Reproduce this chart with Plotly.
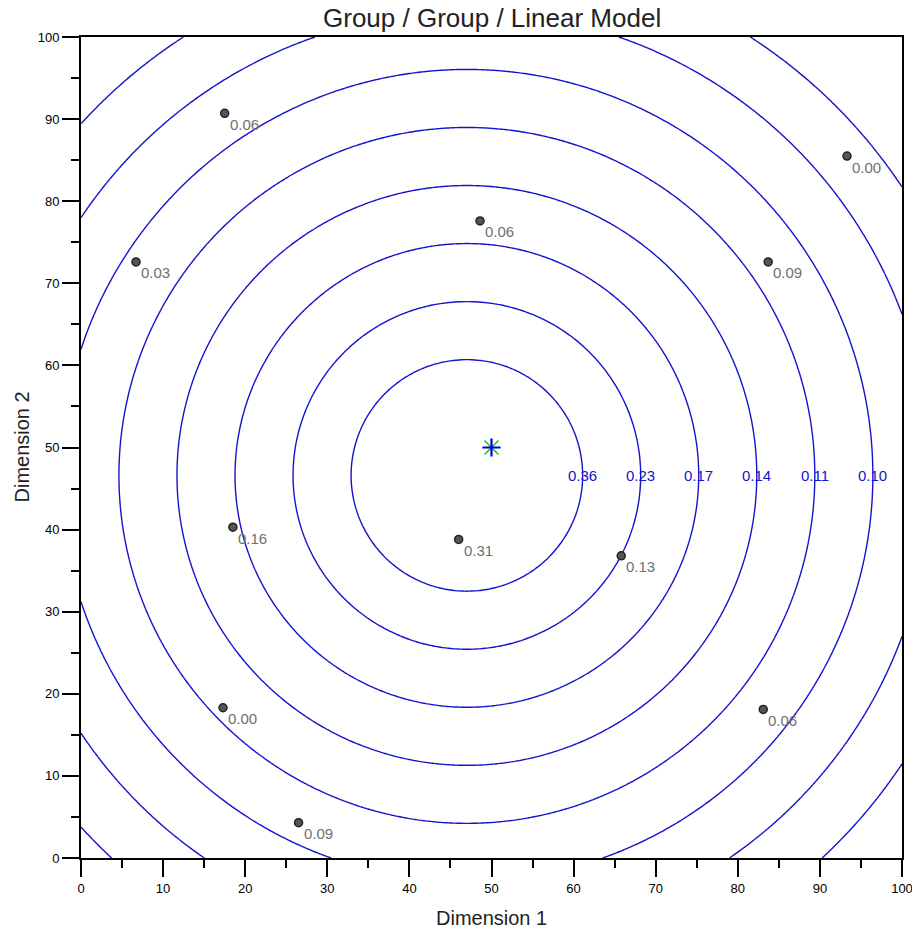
import numpy as np
import plotly.graph_objects as go

# ---- data ----
ideal_x = 47.0          # centre of the concentric contours
ideal_y = 46.6
contour_start = 14.1    # radius of innermost contour
contour_step = 7.07     # spacing between contours
contour_end = 63.7
contour_labels = ["0.36", "0.23", "0.17", "0.14", "0.11", "0.10"]

point_x = [17.5, 6.7, 48.6, 83.7, 93.3, 18.5, 46.0, 65.8, 17.3, 26.5, 83.1]
point_y = [90.7, 72.6, 77.6, 72.6, 85.5, 40.3, 38.8, 36.8, 18.3, 4.3, 18.1]
point_labels = ["0.06", "0.03", "0.06", "0.09", "0.00", "0.16", "0.31", "0.13", "0.00", "0.09", "0.06"]

star_x = [50.0]
star_y = [50.0]

title = "Group / Group / Linear Model"
x_title = "Dimension 1"
y_title = "Dimension 2"

# ---- field for contours ----
gx = np.linspace(0, 100, 251)
gy = np.linspace(0, 100, 251)
XX, YY = np.meshgrid(gx, gy)
Z = np.round(np.sqrt((XX - ideal_x) ** 2 + (YY - ideal_y) ** 2), 3)

BLUE = "#1414cc"
FONT = "Liberation Sans, Arial, sans-serif"

fig = go.Figure()
fig.add_trace(go.Contour(
    x=gx, y=gy, z=Z,
    contours=dict(coloring="lines", start=contour_start, end=contour_end, size=contour_step,
                  showlabels=False),
    colorscale=[[0, BLUE], [1, BLUE]],
    line=dict(width=1.4, smoothing=1),
    showscale=False, hoverinfo="skip",
))

fig.add_trace(go.Scatter(
    x=point_x, y=point_y, mode="markers",
    marker=dict(size=8, color="#555555", line=dict(color="#222222", width=1.5)),
    hoverinfo="skip", cliponaxis=False,
))

fig.add_trace(go.Scatter(
    x=star_x, y=star_y, mode="markers",
    marker=dict(symbol="x-thin-open", size=14, color="#22c022", line=dict(color="#22c022", width=1.5)),
    hoverinfo="skip",
))
fig.add_trace(go.Scatter(
    x=star_x, y=star_y, mode="markers",
    marker=dict(symbol="cross-thin-open", size=13, color="#0000e0", line=dict(color="#0000e0", width=2.2)),
    hoverinfo="skip",
))

annotations = []
for px, py, t in zip(point_x, point_y, point_labels):
    annotations.append(dict(x=px, y=py, xref="x", yref="y", text=t, showarrow=False,
                            xanchor="left", yanchor="middle", xshift=3, yshift=-11,
                            font=dict(family=FONT, size=15, color="#707070")))

for i, t in enumerate(contour_labels):
    r = contour_start + i * contour_step
    annotations.append(dict(x=ideal_x + r, y=ideal_y, xref="x", yref="y", text=t, showarrow=False,
                            xanchor="center", yanchor="middle",
                            font=dict(family=FONT, size=15, color=BLUE)))

annotations.append(dict(x=0.5, y=1, xref="paper", yref="paper", text=title, showarrow=False,
                        xanchor="center", yanchor="middle", yshift=19,
                        font=dict(family=FONT, size=26, color="#222222")))
annotations.append(dict(x=0.5, y=0, xref="paper", yref="paper", text=x_title, showarrow=False,
                        xanchor="center", yanchor="middle", yshift=-60,
                        font=dict(family=FONT, size=20, color="#222222")))
annotations.append(dict(x=0, y=0.5, xref="paper", yref="paper", text=y_title, showarrow=False,
                        xanchor="center", yanchor="middle", xshift=-60, textangle=-90,
                        font=dict(family=FONT, size=20, color="#222222")))

axis_common = dict(
    range=[0, 100], dtick=10, tick0=0, automargin=False, ticklabeloverflow="allow",
    showline=True, linewidth=2, linecolor="black", mirror=True,
    ticks="outside", ticklen=17, tickwidth=2, tickcolor="black",
    minor=dict(dtick=5, ticks="outside", ticklen=8, tickwidth=2, tickcolor="black", showgrid=False),
    showgrid=False, zeroline=False,
    tickfont=dict(family=FONT, size=13, color="black"),
)

fig.update_layout(
    width=912, height=930,
    margin=dict(l=81, r=10, t=37, b=72),
    paper_bgcolor="white", plot_bgcolor="white",
    showlegend=False,
    xaxis=dict(**axis_common),
    yaxis=dict(**axis_common),
    annotations=annotations,
)

fig.write_html("out.html")
